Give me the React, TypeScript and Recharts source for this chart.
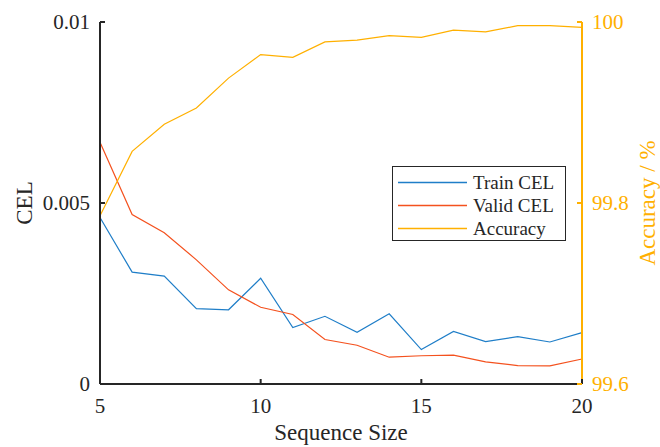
import { LineChart, Line, XAxis, YAxis, Legend } from 'recharts';

// sequence sizes on the x axis
const sizes = [5, 6, 7, 8, 9, 10, 11, 12, 13, 14, 15, 16, 17, 18, 19, 20];
// cross-entropy loss per sequence size
const trainCel = [0.0046, 0.00309, 0.00298, 0.00208, 0.00205, 0.00292, 0.00156, 0.00187, 0.00143, 0.00194, 0.00095, 0.00145, 0.00117, 0.00131, 0.00116, 0.00142];
const validCel = [0.00668, 0.00468, 0.00418, 0.00343, 0.0026, 0.00212, 0.00192, 0.00123, 0.00107, 0.00074, 0.00078, 0.0008, 0.00061, 0.00051, 0.0005, 0.00069];
// accuracy in percent (right axis)
const accuracy = [99.786, 99.857, 99.887, 99.905, 99.938, 99.964, 99.961, 99.978, 99.98, 99.985, 99.983, 99.991, 99.989, 99.996, 99.996, 99.994];

const xTicks = [5, 10, 15, 20];
const celTicks = [0, 0.005, 0.01];
const accTicks = [99.6, 99.8, 100];

const AXIS = '#262626';
const TRAIN = '#1F7EC8';
const VALID = '#F4511E';
const ACC = '#FFB000';
const FONT = "'Liberation Serif', Tinos, 'DejaVu Serif', serif";

const rows = sizes.map((s, i) => ({ size: s, train: trainCel[i], valid: validCel[i], acc: accuracy[i] }));

const series = [
  { name: 'Train CEL', color: TRAIN },
  { name: 'Valid CEL', color: VALID },
  { name: 'Accuracy', color: ACC },
];

// MATLAB-style ticks: short marks pointing into the plot box
function BottomTick({ x, y, payload }: any) {
  return (
    <g>
      <line x1={x} x2={x} y1={y} y2={y - 5} stroke={AXIS} strokeWidth={2} />
      <text x={x} y={y + 29} textAnchor="middle" fill={AXIS} fontSize={21} style={{ fontFamily: FONT }}>
        {payload.value}
      </text>
    </g>
  );
}

function TopTick({ x, y }: any) {
  return <line x1={x} x2={x} y1={y} y2={y + 5} stroke={AXIS} strokeWidth={2} />;
}

function LeftTick({ x, y, payload }: any) {
  return (
    <g>
      <line x1={x} x2={x + 5} y1={y} y2={y} stroke={AXIS} strokeWidth={2} />
      <text x={x - 10} y={y + 7} textAnchor="end" fill={AXIS} fontSize={21} style={{ fontFamily: FONT }}>
        {String(payload.value)}
      </text>
    </g>
  );
}

function RightTick({ x, y, payload }: any) {
  return (
    <g>
      <line x1={x} x2={x - 5} y1={y} y2={y} stroke={ACC} strokeWidth={2} />
      <text x={x + 10} y={y + 7} textAnchor="start" fill={ACC} fontSize={21} style={{ fontFamily: FONT }}>
        {String(payload.value)}
      </text>
    </g>
  );
}

function LegendBox() {
  return (
    <div style={{
      width: 174, height: 75, boxSizing: 'border-box', border: `1.5px solid ${AXIS}`,
      background: '#fff', paddingTop: 4, fontFamily: FONT, fontSize: 19, color: AXIS,
    }}>
      {series.map((s) => (
        <div key={s.name} style={{ height: 23, display: 'flex', alignItems: 'center' }}>
          <svg width={80} height={23} style={{ display: 'block' }}>
            <line x1={5} x2={74} y1={11.5} y2={11.5} stroke={s.color} strokeWidth={1.6} />
          </svg>
          <span style={{ lineHeight: '23px' }}>{s.name}</span>
        </div>
      ))}
    </div>
  );
}

export default function App() {
  return (
    <div style={{ position: 'absolute', left: 0, top: 0, background: '#fff' }}>
      <LineChart width={660} height={447} data={rows} margin={{ top: 22, right: 0, bottom: 0, left: 0 }}>
        <XAxis
          dataKey="size"
          type="number"
          domain={[5, 20]}
          ticks={xTicks}
          height={63}
          tickSize={0}
          tickMargin={0}
          tickLine={false}
          axisLine={{ stroke: AXIS, strokeWidth: 2 }}
          tick={<BottomTick />}
          interval={0}
          label={(p: any) => (
            <text x={p.viewBox.x + p.viewBox.width / 2} y={p.viewBox.y + 56} textAnchor="middle"
              fill={AXIS} fontSize={23} style={{ fontFamily: FONT }}>
              Sequence Size
            </text>
          )}
        />
        <XAxis
          xAxisId="top"
          orientation="top"
          dataKey="size"
          type="number"
          domain={[5, 20]}
          ticks={xTicks}
          height={0}
          tickSize={0}
          tickMargin={0}
          tickLine={false}
          axisLine={{ stroke: AXIS, strokeWidth: 2 }}
          tick={<TopTick />}
          interval={0}
        />
        <YAxis
          yAxisId="cel"
          domain={[0, 0.01]}
          ticks={celTicks}
          width={100}
          tickSize={0}
          tickMargin={0}
          tickLine={false}
          axisLine={{ stroke: AXIS, strokeWidth: 2 }}
          tick={<LeftTick />}
          interval={0}
          label={(p: any) => {
            const cx = p.viewBox.x + 32;
            const cy = p.viewBox.y + p.viewBox.height / 2;
            return (
              <text x={cx} y={cy} textAnchor="middle" transform={`rotate(-90 ${cx} ${cy})`}
                fill={AXIS} fontSize={23} style={{ fontFamily: FONT }}>
                CEL
              </text>
            );
          }}
        />
        <YAxis
          yAxisId="acc"
          orientation="right"
          domain={[99.6, 100]}
          ticks={accTicks}
          width={78}
          tickSize={0}
          tickMargin={0}
          tickLine={false}
          axisLine={{ stroke: ACC, strokeWidth: 2 }}
          tick={<RightTick />}
          interval={0}
          label={(p: any) => {
            const cx = p.viewBox.x + 73;
            const cy = p.viewBox.y + p.viewBox.height / 2;
            return (
              <text x={cx} y={cy} textAnchor="middle" transform={`rotate(-90 ${cx} ${cy})`}
                fill={ACC} fontSize={23} style={{ fontFamily: FONT }}>
                Accuracy / %
              </text>
            );
          }}
        />
        <Line yAxisId="cel" dataKey="train" name="Train CEL" stroke={TRAIN} strokeWidth={1.2} dot={false} isAnimationActive={false} />
        <Line yAxisId="cel" dataKey="valid" name="Valid CEL" stroke={VALID} strokeWidth={1.2} dot={false} isAnimationActive={false} />
        <Line yAxisId="acc" dataKey="acc" name="Accuracy" stroke={ACC} strokeWidth={1.2} dot={false} isAnimationActive={false} />
        <Legend
          layout="vertical"
          align="center"
          verticalAlign="middle"
          content={<LegendBox />}
          wrapperStyle={{ left: 392, top: 166, width: 174, height: 75 }}
        />
      </LineChart>
    </div>
  );
}
